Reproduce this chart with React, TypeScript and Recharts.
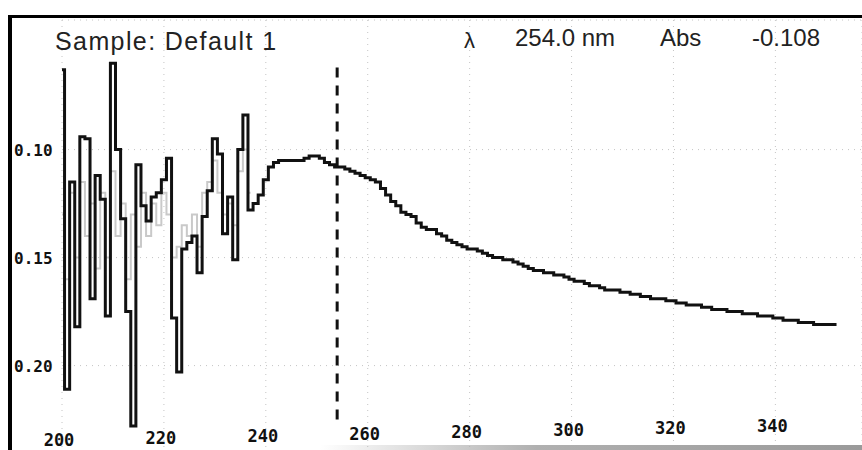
import React from 'react';
import { LineChart, Line, XAxis, YAxis, CartesianGrid, ReferenceLine } from 'recharts';

// scan sampled every 1 nm starting at 200 nm
const START_NM = 200;

// absorbance, 200 .. 352 nm
const absorbance = [
  -0.063, -0.211, -0.115, -0.182, -0.094, -0.095, -0.169, -0.112, -0.123, -0.177,
  -0.060, -0.100, -0.132, -0.175, -0.228, -0.107, -0.126, -0.133, -0.122, -0.120,
  -0.114, -0.104, -0.178, -0.203, -0.146, -0.143, -0.140, -0.157, -0.131, -0.119,
  -0.095, -0.102, -0.139, -0.122, -0.151, -0.100, -0.084, -0.128, -0.125, -0.121,
  -0.114, -0.108, -0.106, -0.105, -0.105, -0.105, -0.105, -0.105, -0.104, -0.103,
  -0.103, -0.104, -0.106, -0.107, -0.108, -0.108, -0.109, -0.110, -0.111, -0.112,
  -0.113, -0.114, -0.115, -0.118, -0.121, -0.124, -0.126, -0.129, -0.130, -0.131,
  -0.134, -0.136, -0.137, -0.137, -0.139, -0.140, -0.142, -0.143, -0.144, -0.145,
  -0.146, -0.146, -0.147, -0.148, -0.149, -0.150, -0.150, -0.151, -0.151, -0.152,
  -0.153, -0.154, -0.155, -0.156, -0.156, -0.157, -0.157, -0.158, -0.158, -0.159,
  -0.160, -0.161, -0.161, -0.162, -0.163, -0.163, -0.164, -0.165, -0.165, -0.165,
  -0.166, -0.166, -0.167, -0.167, -0.168, -0.168, -0.169, -0.169, -0.169, -0.170,
  -0.170, -0.171, -0.171, -0.172, -0.172, -0.172, -0.173, -0.173, -0.174, -0.174,
  -0.174, -0.175, -0.175, -0.175, -0.176, -0.176, -0.176, -0.177, -0.177, -0.177,
  -0.178, -0.178, -0.179, -0.179, -0.179, -0.180, -0.180, -0.180, -0.181, -0.181,
  -0.181, -0.181, -0.181,
];

// faded trace of the previous scan, 200 .. 237 nm
const previousScan = [
  -0.130, -0.160, -0.120, -0.150, -0.115, -0.140, -0.125, -0.155, -0.120, -0.150,
  -0.110, -0.140, -0.125, -0.160, -0.130, -0.145, -0.120, -0.140, -0.125, -0.135,
  -0.120, -0.130, -0.150, -0.145, -0.135, -0.140, -0.130, -0.145, -0.120, -0.115,
  -0.105, -0.120, -0.130, -0.125, -0.135, -0.110, -0.100, -0.120,
];

const xTicks = [200, 220, 240, 260, 280, 300, 320, 340];
const yTicks = [-0.2, -0.15, -0.1];

const sampleName = 'Default 1';
const cursorNm = 254.0;
const cursorAbs = -0.108;
// vertical extent of the cursor marker
const cursorTop = -0.062;
const cursorBottom = -0.225;

const data = absorbance.map((abs, i) => ({
  nm: START_NM + i,
  abs,
  prev: i < previousScan.length ? previousScan[i] : null,
}));

const lcdFont = "'DejaVu Sans Mono', monospace";
const textFont = "'Liberation Sans', Arial, sans-serif";

const XTick = ({ x, y, payload }: any) => {
  // the display sits slightly rotated, so labels drift upward to the right
  const drift = (payload.value - START_NM) * 0.1;
  return (
    <text x={x - 3} y={y - 12 - drift} textAnchor="middle" fontFamily={lcdFont} fontWeight="bold"
      fontSize={17} fill="#111">
      {payload.value}
    </text>
  );
};

const YTick = ({ y, payload }: any) => (
  <text x={14} y={y + 6} textAnchor="start" fontFamily={lcdFont} fontWeight="bold" fontSize={16} fill="#111">
    {Math.abs(payload.value).toFixed(2)}
  </text>
);

const header: React.CSSProperties = {
  position: 'absolute',
  fontFamily: textFont,
  color: '#222',
  whiteSpace: 'nowrap',
  lineHeight: 1,
};

export default function App() {
  return (
    <div style={{ position: 'absolute', left: 0, top: 0, width: 862, height: 450, overflow: 'hidden', background: '#fff' }}>
      <LineChart width={862} height={470} data={data} margin={{ top: 20, right: 0, bottom: 0, left: 0 }}>
        <CartesianGrid stroke="#c4c4c4" strokeDasharray="1 5" />
        <XAxis dataKey="nm" type="number" domain={[200, 357]} ticks={xTicks} height={18}
          axisLine={false} tickLine={false} tick={<XTick />} tickMargin={0} interval={0} allowDataOverflow />
        <YAxis type="number" domain={[-0.24, -0.04]} ticks={yTicks} width={62}
          axisLine={false} tickLine={false} tick={<YTick />} interval={0} allowDataOverflow />
        <Line dataKey="prev" type="step" stroke="#c9c9c9" strokeWidth={2} dot={false}
          connectNulls={false} isAnimationActive={false} />
        <Line dataKey="abs" type="step" stroke="#111" strokeWidth={3} dot={false} isAnimationActive={false} />
        <ReferenceLine
          segment={[{ x: cursorNm, y: cursorTop }, { x: cursorNm, y: cursorBottom }]}
          stroke="#111" strokeWidth={3} strokeDasharray="10 8" ifOverflow="visible"
        />
      </LineChart>

      {/* screen frame */}
      <div style={{ position: 'absolute', left: 8, top: 15, width: 4, height: 435, background: '#000' }} />
      <div style={{ position: 'absolute', left: 8, top: 15, width: 854, height: 3, background: '#000' }} />
      <div style={{ position: 'absolute', left: 320, top: 445, width: 542, height: 5,
        background: 'linear-gradient(90deg, rgba(170,170,170,0), #b0b0b0 40%, #9a9a9a)' }} />

      <div style={{ ...header, left: 55, top: 29, fontSize: 25, letterSpacing: 1.4 }}>Sample: {sampleName}</div>
      <div style={{ ...header, left: 464, top: 30, fontSize: 22 }}>λ</div>
      <div style={{ ...header, left: 515, top: 26, fontSize: 24 }}>{cursorNm.toFixed(1)} nm</div>
      <div style={{ ...header, left: 660, top: 26, fontSize: 24 }}>Abs</div>
      <div style={{ ...header, left: 752, top: 26, fontSize: 24 }}>{cursorAbs.toFixed(3)}</div>
    </div>
  );
}
